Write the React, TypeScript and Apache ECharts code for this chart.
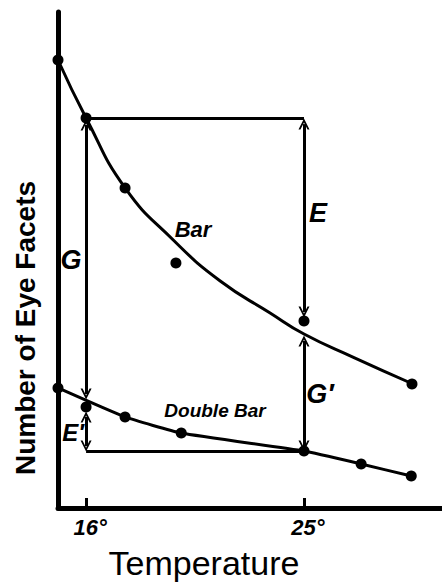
import React, { useEffect, useRef } from "react";
import * as echarts from "echarts";

// Temperature (°C) and number of eye facets (arbitrary scale)
const barTemps = [14.84, 16, 17.61, 19.71, 25, 29.46];
const barFacets = [225.8, 196.6, 161.3, 123.5, 94.2, 62.5];

const doubleTemps = [14.84, 16, 17.61, 19.93, 25, 27.36, 29.43];
const doubleFacets = [60.5, 50.9, 45.9, 37.8, 28.7, 22.2, 16.1];

// fitted (hand-drawn) curves
const barCurveTemps = [14.84, 16, 17.61, 19.6, 21.54, 23.6, 25, 27.02, 29.5];
const barCurveFacets = [225.8, 196.6, 161.3, 135.1, 114.4, 98.3, 87.7, 76.1, 62.5];

const doubleCurveTemps = [14.84, 17.61, 19.93, 25, 27.36, 29.43];
const doubleCurveFacets = [60.5, 45.9, 37.8, 28.7, 22.2, 16.1];

const tickTemps = [16, 25];

// annotation arrows [x, yFrom, yTo] in data units
const arrowsG = [16, 193.0, 57.5];
const arrowsE = [25, 193.5, 98.8];
const arrowsGp = [25, 84.2, 31.2];
const arrowsEp = [16, 45.9, 31.2];
// horizontal guide lines [y, xFrom, xTo]
const guideTop = [196.6, 16, 25];
const guideBottom = [28.7, 16, 25];

const chevron = "path://M0,10 L5,0 L10,10 L8.2,10 L5,3.6 L1.8,10 Z";

export default function App() {
  const ref = useRef<HTMLDivElement>(null);
  useEffect(() => {
    if (!ref.current) return;
    const chart = echarts.init(ref.current, null, { renderer: "svg" });
    const arrow = (a: number[]) => [
      { coord: [a[0], a[1]] },
      { coord: [a[0], a[2]] },
    ];
    const guide = (g: number[]) => [
      { coord: [g[1], g[0]], symbol: "none" },
      { coord: [g[2], g[0]], symbol: "none" },
    ];
    const letterStyle = {
      fontFamily: "Liberation Sans",
      fontStyle: "italic",
      fontWeight: "bold",
      fill: "#000",
    };
    chart.setOption({
      animation: false,
      backgroundColor: "#fff",
      grid: { left: 58, right: 0, top: 12, bottom: 75, outerBoundsMode: "none", containLabel: false },
      xAxis: {
        type: "value",
        min: 14.84,
        max: 30.7,
        axisLine: { lineStyle: { color: "#000", width: 5 } },
        splitLine: { show: false },
        axisTick: {
          customValues: tickTemps,
          inside: true,
          length: 10,
          lineStyle: { color: "#000", width: 3 },
        },
        axisLabel: {
          customValues: tickTemps,
          formatter: "{value}°",
          color: "#000",
          fontFamily: "Liberation Sans",
          fontStyle: "italic",
          fontWeight: "bold",
          fontSize: 22,
          margin: 8,
          padding: [0, 0, 0, 8],
        },
        name: "Temperature",
        nameLocation: "middle",
        nameGap: 38,
        nameTextStyle: {
          color: "#000",
          fontFamily: "Liberation Sans",
          fontSize: 34,
          padding: [0, 92, 0, 0],
        },
      },
      yAxis: {
        type: "value",
        min: 0,
        max: 250,
        axisLine: { show: true, lineStyle: { color: "#000", width: 5 } },
        axisTick: { show: false },
        axisLabel: { show: false },
        splitLine: { show: false },
      },
      series: [
        {
          type: "line",
          name: "Bar curve",
          data: barCurveTemps.map((t, i) => [t, barCurveFacets[i]]),
          smooth: 0.5,
          symbol: "none",
          lineStyle: { color: "#000", width: 3 },
          z: 3,
        },
        {
          type: "line",
          name: "Double Bar curve",
          data: doubleCurveTemps.map((t, i) => [t, doubleCurveFacets[i]]),
          smooth: 0.15,
          symbol: "none",
          lineStyle: { color: "#000", width: 3 },
          z: 3,
        },
        {
          type: "scatter",
          name: "Bar",
          data: barTemps.map((t, i) => [t, barFacets[i]]),
          symbolSize: 11,
          itemStyle: { color: "#000", opacity: 1 },
          z: 5,
        },
        {
          type: "scatter",
          name: "Double Bar",
          data: doubleTemps.map((t, i) => [t, doubleFacets[i]]),
          symbolSize: 11,
          itemStyle: { color: "#000", opacity: 1 },
          z: 5,
        },
        {
          type: "line",
          name: "annotations",
          data: [],
          markLine: {
            silent: true,
            symbol: [chevron, chevron],
            symbolSize: [11, 11],
            label: { show: false },
            lineStyle: { color: "#000", width: 3, type: "solid" },
            data: [
              arrow(arrowsG),
              arrow(arrowsE),
              arrow(arrowsGp),
              arrow(arrowsEp),
              guide(guideTop),
              guide(guideBottom),
            ],
          },
        },
      ],
      graphic: [
        {
          type: "text",
          x: 25,
          y: 328,
          rotation: Math.PI / 2,
          style: {
            text: "Number of Eye Facets",
            fontFamily: "Liberation Sans",
            fontWeight: "bold",
            fontSize: 28,
            fill: "#000",
            align: "center",
            verticalAlign: "middle",
          },
        },
        {
          type: "text",
          x: 193,
          y: 229,
          style: { ...letterStyle, text: "Bar", fontSize: 22, align: "center", verticalAlign: "middle" },
        },
        {
          type: "text",
          x: 215,
          y: 410,
          style: { ...letterStyle, text: "Double Bar", fontSize: 19, align: "center", verticalAlign: "middle" },
        },
        {
          type: "text",
          x: 318,
          y: 213,
          style: { ...letterStyle, text: "E", fontSize: 27, align: "center", verticalAlign: "middle" },
        },
        {
          type: "text",
          x: 71,
          y: 260,
          style: { ...letterStyle, text: "G", fontSize: 27, align: "center", verticalAlign: "middle" },
        },
        {
          type: "text",
          x: 320,
          y: 394,
          style: { ...letterStyle, text: "G′", fontSize: 27, align: "center", verticalAlign: "middle" },
        },
        {
          type: "text",
          x: 73,
          y: 432,
          style: { ...letterStyle, text: "E′", fontSize: 24, align: "center", verticalAlign: "middle" },
        },
      ],
    });
    return () => chart.dispose();
  }, []);
  return (
    <div
      ref={ref}
      style={{ position: "absolute", left: 0, top: 0, width: 442, height: 583 }}
    />
  );
}
